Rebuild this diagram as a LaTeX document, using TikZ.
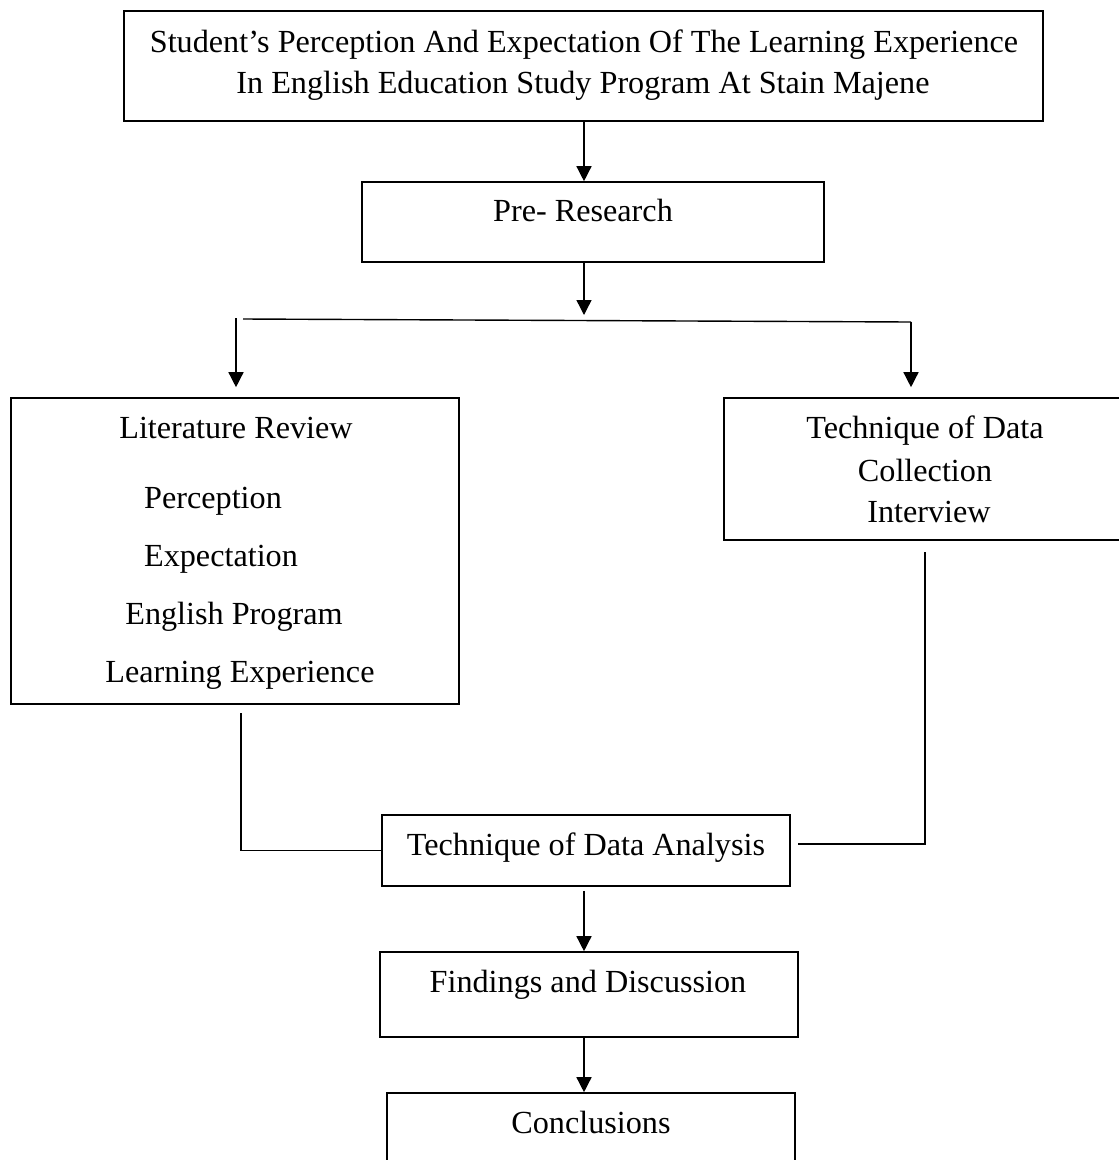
\documentclass[tikz,border=0pt]{standalone}
\usepackage{fontspec}
\setmainfont{Liberation Serif}
\usetikzlibrary{arrows.meta}
\begin{document}
\begin{tikzpicture}[x=1pt,y=-1pt,
  box/.style={draw, line width=1.6pt, inner sep=0pt},
  txt/.style={anchor=base, inner sep=0pt, font=\fontsize{32.2}{38}\selectfont},
  ln/.style={line width=1.4pt},
  arr/.style={line width=1.4pt, -{Triangle[length=15pt,width=15pt]}}]
\useasboundingbox (0,0) rectangle (1119,1160);
% boxes
\node[box, minimum width=919pt, minimum height=110pt] (top) at (583.5,66) {};
\node[box, minimum width=462pt, minimum height=80pt] (pre) at (593,222) {};
\node[box, minimum width=448pt, minimum height=306pt] (lit) at (235,551) {};
\node[box, minimum width=401pt, minimum height=142pt] (dc) at (924.5,469) {};
\node[box, minimum width=408pt, minimum height=71pt] (ana) at (586,850.5) {};
\node[box, minimum width=418pt, minimum height=85pt] (fin) at (589,994.5) {};
\node[box, minimum width=408pt, minimum height=92pt] (con) at (591,1139) {};
% texts
\node[txt] (t1) at (584,52) {Student’s Perception And Expectation Of The Learning Experience};
\node[txt] (t2) at (583,93) {In English Education Study Program At Stain Majene};
\node[txt] (tp) at (583,221) {Pre- Research};
\node[txt] (l1) at (236,438) {Literature Review};
\node[txt] (l2) at (213,508) {Perception};
\node[txt] (l3) at (221,566) {Expectation};
\node[txt] (l4) at (234,624) {English Program};
\node[txt] (l5) at (240,682) {Learning Experience};
\node[txt] (d1) at (925,438) {Technique of Data};
\node[txt] (d2) at (925,481) {Collection};
\node[txt] (d3) at (929,522) {Interview};
\node[txt] (ta) at (586,855) {Technique of Data Analysis};
\node[txt] (tf) at (588,992) {Findings and Discussion};
\node[txt] (tc) at (591,1133) {Conclusions};
% connectors
\coordinate (fx) at (584,0);
\coordinate (bj) at (584,315);
\coordinate (hl) at (243,319);
\coordinate (hr) at (911,322);
\coordinate (la) at (236,318);
\coordinate (ll) at (241,713);
\coordinate (rl) at (925,552);
\draw[arr] (top.south -| fx) -- (pre.north -| fx);
\draw[arr] (pre.south -| fx) -- (bj);
\draw[ln] (hl) -- (hr);
\draw[arr, shorten >=10pt] (la) -- (la |- lit.north);
\draw[arr, shorten >=10pt] (hr) -- (hr |- dc.north);
\draw[ln] (ll) |- (ana.west);
\draw[ln] (rl) |- ([shift={(7,-6.5)}]ana.east);
\draw[arr, shorten <=4pt] (ana.south -| fx) -- (fin.north -| fx);
\draw[arr] (fin.south -| fx) -- (con.north -| fx);
\end{tikzpicture}
\end{document}
